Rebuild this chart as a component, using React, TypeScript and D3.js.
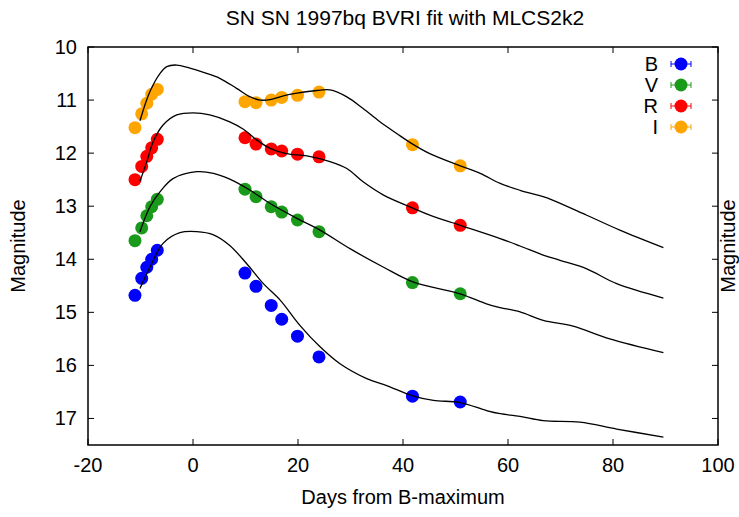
import React from "react";
import * as d3 from "d3";

const title = "SN SN 1997bq BVRI fit with MLCS2k2";
const xLabel = "Days from B-maximum";
const yLabel = "Magnitude";
const xTicks = [-20, 0, 20, 40, 60, 80, 100];
const yTicks = [10, 11, 12, 13, 14, 15, 16, 17];

const bands = ["B", "V", "R", "I"];
const bandColors = ["#0000ff", "#1a9a1a", "#ff0000", "#ffa500"];

const obsDays = [-11.05, -9.77, -8.8, -7.87, -6.8, 9.9, 12.0, 14.9, 16.9, 19.9, 24.0, 41.8, 50.9];
const obsB = [14.68, 14.36, 14.15, 14.0, 13.83, 14.26, 14.51, 14.87, 15.13, 15.45, 15.84, 16.58, 16.69];
const obsV = [13.65, 13.41, 13.18, 13.01, 12.87, 12.68, 12.82, 13.01, 13.11, 13.26, 13.48, 14.44, 14.65];
const obsR = [12.5, 12.25, 12.06, 11.9, 11.74, 11.71, 11.83, 11.92, 11.96, 12.02, 12.07, 13.03, 13.36];
const obsI = [11.52, 11.26, 11.06, 10.89, 10.8, 11.03, 11.05, 11.0, 10.95, 10.91, 10.85, 11.84, 12.24];

const fitBDays = [-10.1, -8.2, -5.7, -2.5, 0.7, 3.9, 7.0, 10.2, 13.4, 16.6, 20.4, 24.2, 28.0, 33.1, 36.9, 42.0, 45.8, 50.9, 55.9, 58.5, 62.3, 66.7, 73.7, 80.7, 89.6];
const fitBMags = [14.55, 14.15, 13.7, 13.5, 13.48, 13.54, 13.74, 14.08, 14.46, 14.77, 15.25, 15.65, 15.97, 16.25, 16.38, 16.58, 16.66, 16.7, 16.85, 16.91, 16.96, 17.04, 17.07, 17.2, 17.35];

const fitVDays = [-10.1, -8.2, -6.3, -3.8, 0.7, 3.9, 7.0, 10.9, 14.7, 19.8, 24.2, 29.9, 36.3, 42.0, 50.9, 55.9, 58.5, 62.3, 66.7, 72.4, 79.4, 89.6];
const fitVMags = [13.48, 13.01, 12.73, 12.48, 12.35, 12.38, 12.49, 12.7, 12.95, 13.23, 13.45, 13.8, 14.15, 14.43, 14.65, 14.84, 14.91, 14.99, 15.15, 15.26, 15.5, 15.76];

const fitRDays = [-10.1, -8.8, -7.6, -5.7, -3.1, 0.06, 3.2, 7.0, 9.6, 12.1, 14.7, 17.8, 21.7, 26.1, 29.3, 32.4, 36.3, 42.0, 45.1, 50.9, 58.5, 62.3, 66.7, 69.9, 75.0, 80.7, 89.6];
const fitRMags = [12.53, 12.16, 11.79, 11.47, 11.28, 11.24, 11.28, 11.41, 11.55, 11.75, 11.91, 12.01, 12.05, 12.16, 12.29, 12.54, 12.79, 13.04, 13.17, 13.36, 13.61, 13.75, 13.92, 14.02, 14.18, 14.46, 14.73];

const fitIDays = [-10.1, -8.2, -6.3, -5.0, -3.1, -0.6, 2.0, 5.1, 8.3, 10.9, 12.8, 14.7, 17.2, 19.8, 23.6, 26.1, 29.3, 32.4, 35.6, 38.8, 42.0, 45.1, 50.9, 54.7, 58.5, 62.3, 66.7, 68.6, 75.0, 81.3, 89.6];
const fitIMags = [11.39, 10.84, 10.5, 10.37, 10.34, 10.4, 10.48, 10.59, 10.78, 10.94, 11.0, 10.99, 10.92, 10.87, 10.82, 10.81, 10.94, 11.16, 11.41, 11.63, 11.84, 12.01, 12.24, 12.38, 12.57, 12.7, 12.82, 12.89, 13.17, 13.45, 13.78];

const W = 739;
const H = 517;
const left = 88, right = 718, top = 47, bottom = 445;
const FONT = "'Liberation Sans', Arial, Helvetica, sans-serif";
const FS = 20;

export default function App() {
  const x = d3.scaleLinear().domain([-20, 100]).range([left, right]);
  const y = d3.scaleLinear().domain([10, 17.5]).range([top, bottom]);

  const obsSeries = [obsB, obsV, obsR, obsI];
  const fits: [number[], number[]][] = [
    [fitBDays, fitBMags],
    [fitVDays, fitVMags],
    [fitRDays, fitRMags],
    [fitIDays, fitIMags],
  ];

  const line = d3
    .line<[number, number]>()
    .x((d) => x(d[0]))
    .y((d) => y(d[1]))
    .curve(d3.curveCatmullRom.alpha(0.5));

  const tickLen = 6;
  const legendY = [64, 85, 106, 127];

  return (
    <svg
      width={W}
      height={H}
      style={{ position: "absolute", left: 0, top: 0, background: "#fff" }}
      fontFamily={FONT}
    >
      <rect x={0} y={0} width={W} height={H} fill="#fff" />
      <text x={(left + right) / 2 + 2} y={25} textAnchor="middle" fontSize={21}>
        {title}
      </text>

      {xTicks.map((t) => (
        <g key={"xt" + t}>
          <line x1={x(t)} x2={x(t)} y1={bottom} y2={bottom - tickLen} stroke="#000" strokeWidth={1} />
          <line x1={x(t)} x2={x(t)} y1={top} y2={top + tickLen} stroke="#000" strokeWidth={1} />
          <text x={x(t)} y={472} textAnchor="middle" fontSize={FS}>
            {t}
          </text>
        </g>
      ))}
      {yTicks.map((t) => (
        <g key={"yt" + t}>
          <line x1={left} x2={left + tickLen} y1={y(t)} y2={y(t)} stroke="#000" strokeWidth={1} />
          <line x1={right} x2={right - tickLen} y1={y(t)} y2={y(t)} stroke="#000" strokeWidth={1} />
          <text x={77} y={y(t) + 7} textAnchor="end" fontSize={FS}>
            {t}
          </text>
        </g>
      ))}

      <text x={(left + right) / 2} y={504} textAnchor="middle" fontSize={FS}>
        {xLabel}
      </text>
      <text
        transform={`translate(25,${(top + bottom) / 2}) rotate(-90)`}
        textAnchor="middle"
        fontSize={FS}
      >
        {yLabel}
      </text>
      <text
        transform={`translate(735,${(top + bottom) / 2}) rotate(-90)`}
        textAnchor="middle"
        fontSize={FS}
      >
        {yLabel}
      </text>

      {obsSeries.map((s, i) => (
        <g key={"obs" + i}>
          {s.map((m, j) => (
            <circle key={j} cx={x(obsDays[j])} cy={y(m)} r={6.5} fill={bandColors[i]} />
          ))}
        </g>
      ))}

      {fits.map(([ds, ms], i) => (
        <path
          key={"fit" + i}
          d={line(ds.map((d, k) => [d, ms[k]] as [number, number])) || ""}
          fill="none"
          stroke="#000"
          strokeWidth={1.3}
        />
      ))}

      {bands.map((b, i) => (
        <g key={"lg" + b}>
          <text x={658} y={legendY[i] + 7} textAnchor="end" fontSize={FS}>
            {b}
          </text>
          <line x1={671} x2={691} y1={legendY[i]} y2={legendY[i]} stroke={bandColors[i]} strokeWidth={1} />
          <line x1={671} x2={671} y1={legendY[i] - 3} y2={legendY[i] + 3} stroke={bandColors[i]} strokeWidth={1} />
          <line x1={691} x2={691} y1={legendY[i] - 3} y2={legendY[i] + 3} stroke={bandColors[i]} strokeWidth={1} />
          <circle cx={681} cy={legendY[i]} r={6.5} fill={bandColors[i]} />
        </g>
      ))}

      <rect x={left} y={top} width={right - left} height={bottom - top} fill="none" stroke="#000" strokeWidth={1.5} />
    </svg>
  );
}
